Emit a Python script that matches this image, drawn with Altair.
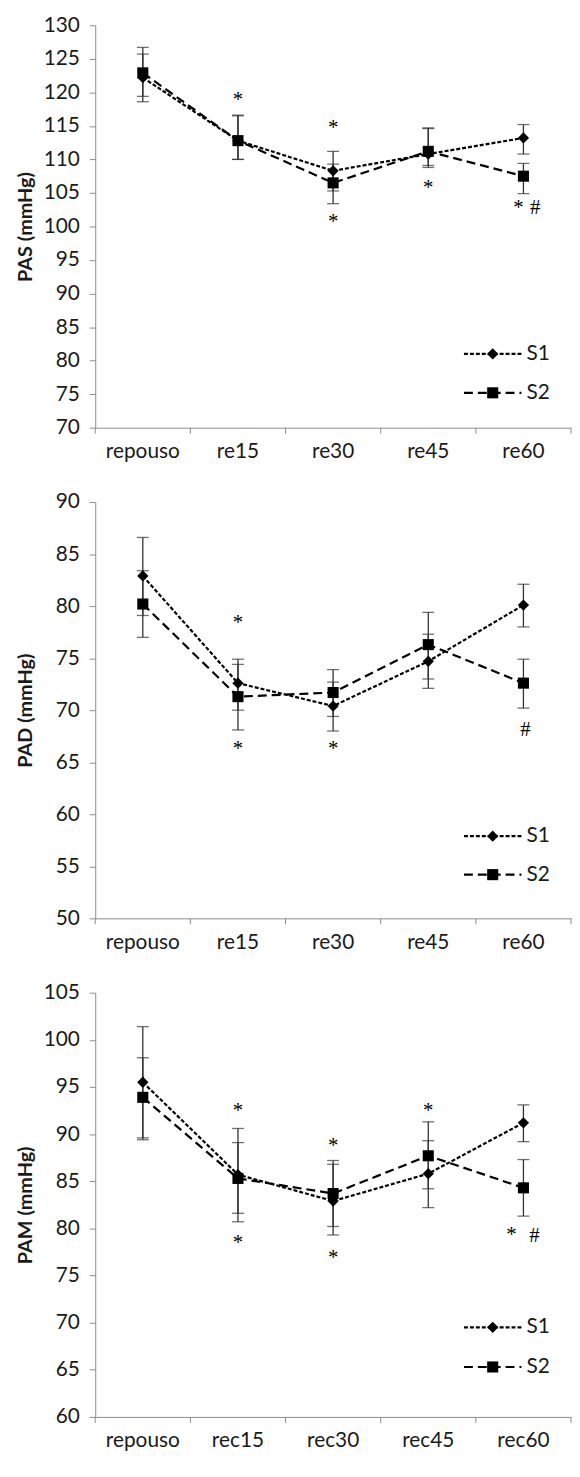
import altair as alt
import pandas as pd

# ---------------- data ----------------
series_names = ["S1", "S2"]

# Panel 1: PAS
pas_cats = ["repouso", "re15", "re30", "re45", "re60"]
pas_s1 = [122.2, 112.8, 108.3, 110.8, 113.2]
pas_s1_hi = [125.7, 116.5, 111.2, 114.6, 115.2]
pas_s1_lo = [119.4, 110.0, 105.3, 108.8, 110.8]
pas_s2 = [122.9, 112.8, 106.5, 111.2, 107.5]
pas_s2_hi = [126.7, 116.6, 109.3, 114.7, 109.4]
pas_s2_lo = [118.6, 110.0, 103.4, 109.1, 104.9]
pas_ann_cat = ["re15", "re30", "re30", "re45", "re60", "re60"]
pas_ann_val = [119.4, 115.2, 101.2, 106.3, 103.4, 102.8]
pas_ann_txt = ["*", "*", "*", "*", "*", "#"]

# Panel 2: PAD
pad_cats = ["repouso", "re15", "re30", "re45", "re60"]
pad_s1 = [82.9, 72.6, 70.4, 74.7, 80.1]
pad_s1_hi = [86.6, 74.9, 72.7, 77.3, 82.1]
pad_s1_lo = [79.1, 70.0, 68.0, 72.1, 78.0]
pad_s2 = [80.2, 71.3, 71.7, 76.3, 72.6]
pad_s2_hi = [83.4, 74.4, 73.9, 79.4, 74.9]
pad_s2_lo = [77.0, 68.1, 69.4, 73.0, 70.2]
pad_ann_cat = ["re15", "re15", "re30", "re60"]
pad_ann_val = [78.8, 66.6, 66.6, 68.1]
pad_ann_txt = ["*", "*", "*", "#"]

# Panel 3: PAM
pam_cats = ["repouso", "rec15", "rec30", "rec45", "rec60"]
pam_s1 = [95.5, 85.7, 82.9, 85.8, 91.2]
pam_s1_hi = [101.4, 90.6, 86.8, 89.3, 93.1]
pam_s1_lo = [89.6, 80.7, 79.3, 82.2, 89.2]
pam_s2 = [93.9, 85.3, 83.7, 87.7, 84.3]
pam_s2_hi = [98.1, 89.1, 87.2, 91.3, 87.3]
pam_s2_lo = [89.4, 81.6, 80.2, 84.2, 81.3]
pam_ann_cat = ["rec15", "rec15", "rec30", "rec30", "rec45", "rec60", "rec60"]
pam_ann_val = [92.9, 78.9, 89.2, 77.3, 92.9, 79.7, 79.2]
pam_ann_txt = ["*", "*", "*", "*", "*", "*", "#"]

# ---------------- style ----------------
FONT = "Lato"
ANN_FONT = "Liberation Serif"
AXC = "#8c8c8c"
TXT = "#1a1a1a"
EC = "#333333"
W = 480
FS = 21


def make_panel(cats, s1, s1_hi, s1_lo, s2, s2_hi, s2_lo,
               ann_cat, ann_val, ann_txt, ann_dx,
               ymin, ymax, title, height, leg_y):
    df = pd.DataFrame({
        "cat": cats + cats,
        "series": ["S1"] * len(cats) + ["S2"] * len(cats),
        "mean": s1 + s2,
        "hi": s1_hi + s2_hi,
        "lo": s1_lo + s2_lo,
    })
    xscale = alt.Scale(type="band", domain=cats, paddingInner=0, paddingOuter=0)
    xaxis = alt.Axis(title=None, ticks=False, tickSize=0, domain=True,
                     domainColor=AXC, labelFont=FONT, labelFontSize=FS,
                     labelColor=TXT, labelPadding=13, labelAngle=0)

    def X(bp=0.5):
        return alt.X("cat:N", scale=xscale, axis=xaxis, bandPosition=bp)

    yscale = alt.Scale(domain=[ymin, ymax], nice=False, zero=False)
    yaxis = alt.Axis(title=title, values=list(range(ymin, ymax + 1, 5)),
                     grid=False, domainColor=AXC, tickColor=AXC, tickSize=6,
                     labelFont=FONT, labelFontSize=FS, labelColor=TXT,
                     labelPadding=10, labelOverlap=False,
                     minExtent=53, maxExtent=53,
                     titleFont=FONT, titleFontSize=20, titleFontWeight="bold",
                     titleColor=TXT, titlePadding=7)

    def Y(field):
        return alt.Y(field, type="quantitative", scale=yscale, axis=yaxis)

    dash = alt.StrokeDash("series:N", scale=alt.Scale(domain=series_names, range=[[4, 2], [9, 5]]), legend=None)
    shape = alt.Shape("series:N", scale=alt.Scale(domain=series_names, range=["diamond", "square"]), legend=None)
    size = alt.Size("series:N", scale=alt.Scale(domain=series_names, range=[130, 125]), legend=None)

    base = alt.Chart(df)
    err = base.mark_rule(color=EC, strokeWidth=1.3).encode(
        x=X(), y=Y("lo"), y2="hi:Q")
    cap_hi = base.mark_tick(color=EC, size=12, thickness=1.3).encode(
        x=alt.X("cat:N", scale=xscale, axis=xaxis), y=Y("hi"))
    cap_lo = base.mark_tick(color=EC, size=12, thickness=1.3).encode(
        x=alt.X("cat:N", scale=xscale, axis=xaxis), y=Y("lo"))
    lines = base.mark_line(color="black", strokeWidth=2.2).encode(
        x=X(), y=Y("mean"), strokeDash=dash)
    pts = base.mark_point(filled=True, color="black", opacity=1).encode(
        x=X(), y=Y("mean"), shape=shape, size=size)

    layers = [err, cap_hi, cap_lo, lines, pts]

    for c, v, t, d in zip(ann_cat, ann_val, ann_txt, ann_dx):
        a = pd.DataFrame({"cat": [c], "val": [v], "txt": [t]})
        layers.append(
            alt.Chart(a).mark_text(font=ANN_FONT, fontSize=21, color="black",
                                   dx=d, dy=(4 if t == "*" else 0), baseline="middle").encode(
                x=X(), y=Y("val"), text="txt:N"))

    # category-boundary tick marks on x axis (Excel style)
    tk = pd.DataFrame({"cat": cats})
    layers.append(alt.Chart(tk).mark_rule(color=AXC, strokeWidth=1).encode(
        x=X(0), y=alt.value(height), y2=alt.value(height + 6)))
    layers.append(alt.Chart(pd.DataFrame({"cat": [cats[-1]]})).mark_rule(color=AXC, strokeWidth=1).encode(
        x=alt.value(W), y=alt.value(height), y2=alt.value(height + 6)))

    # legend
    lg = pd.DataFrame({"series": series_names, "ly": leg_y})
    layers.append(alt.Chart(lg).mark_rule(color="black", strokeWidth=2.2).encode(
        x=alt.value(372), x2=alt.value(430), y=Y("ly"), strokeDash=dash))
    layers.append(alt.Chart(lg).mark_point(filled=True, color="black", opacity=1).encode(
        x=alt.value(401), y=Y("ly"), shape=shape, size=size))
    layers.append(alt.Chart(lg).mark_text(font=FONT, fontSize=FS, color=TXT, align="left").encode(
        x=alt.value(435), y=Y("ly"), text="series:N"))

    return alt.layer(*layers).properties(width=W, height=height)


p1 = make_panel(pas_cats, pas_s1, pas_s1_hi, pas_s1_lo, pas_s2, pas_s2_hi, pas_s2_lo,
                pas_ann_cat, pas_ann_val, pas_ann_txt, [0, 0, 0, 0, -5, 12],
                70, 130, "PAS (mmHg)", 406, [81.0, 75.2])
p2 = make_panel(pad_cats, pad_s1, pad_s1_hi, pad_s1_lo, pad_s2, pad_s2_hi, pad_s2_lo,
                pad_ann_cat, pad_ann_val, pad_ann_txt, [0, 0, 0, 2],
                50, 90, "PAD (mmHg)", 420, [57.9, 54.2])
p3 = make_panel(pam_cats, pam_s1, pam_s1_hi, pam_s1_lo, pam_s2, pam_s2_hi, pam_s2_lo,
                pam_ann_cat, pam_ann_val, pam_ann_txt, [0, 0, 0, 0, 0, -12, 11],
                60, 105, "PAM (mmHg)", 428, [69.5, 65.3])

chart = alt.vconcat(p1, p2, p3, spacing=30).properties(
    padding={"left": 8, "top": 0, "right": 0, "bottom": 0}
).configure_view(stroke=None)

chart.save("out.html", embed_options={"renderer": "svg", "actions": False})
